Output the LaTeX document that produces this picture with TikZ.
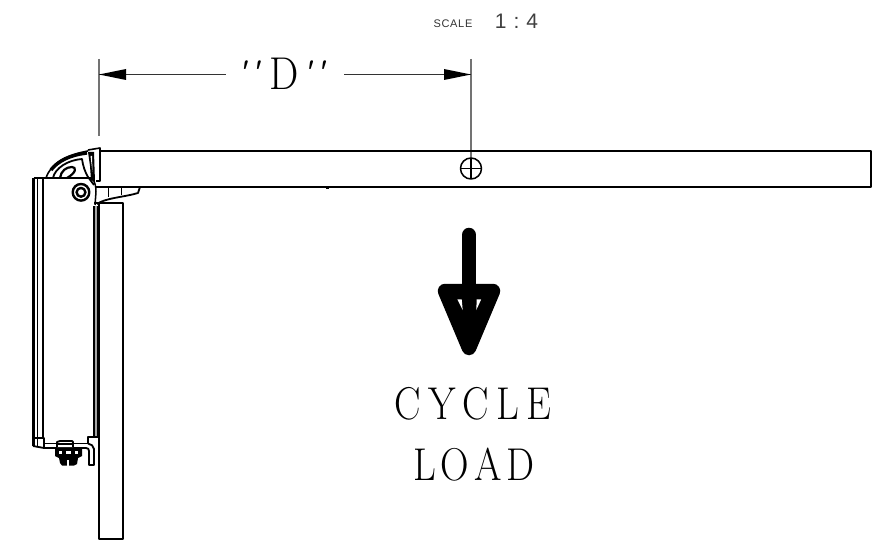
\documentclass[tikz,border=0pt]{standalone}
\usepackage{fontspec}
\newfontfamily\drawsans{Liberation Sans}
\tikzset{
 ln/.style={black,line width=1pt},
 thk/.style={black,line width=1.8pt},
 ext/.style={black!55,line width=1.2pt},
 dimline/.style={black!80,line width=0.9pt},
 lettering/.style={inner sep=0pt,anchor=center,text=black},
}
\newcommand{\tickmark}{\raisebox{7pt}{\fontsize{31}{31}\selectfont\bfseries\itshape\textquotesingle}}
\newcommand{\gapC}{\hspace{8.6pt}}
\newcommand{\gapL}{\hspace{5.8pt}}
\begin{document}
\begin{tikzpicture}[x=1pt,y=-1pt,line join=round]
\useasboundingbox (0,0) rectangle (881,540);
\fill[white] (0,0) rectangle (881,540);
% texts
\node[inner sep=0pt,text=black!80] (scaleword) at (453,24) {\drawsans\fontsize{11}{11}\selectfont\addfontfeature{LetterSpace=6}SCALE};
\node[inner sep=0pt,text=black!75] (scaleval) at (516.5,21) {\drawsans\fontsize{21}{21}\selectfont 1\hspace{7pt}:\hspace{7pt}4};
\node[lettering,xscale=0.9] (dlabel) at (281,74) {\tickmark\hspace{3.5pt}\tickmark\hspace{11pt}\fontsize{46}{46}\selectfont D\hspace{3.5pt}\tickmark\hspace{3.5pt}\tickmark};
\node[lettering,xscale=0.86] (cycle) at (473,404) {\fontsize{46}{46}\selectfont C\gapC Y\gapC C\gapC L\gapC E};
\node[lettering,xscale=0.86] (load) at (474,465) {\fontsize{46}{46}\selectfont L\gapL O\gapL A\gapL D};
% dimension
\coordinate (dl) at (99,74.5);
\coordinate (dr) at (471,74.5);
\draw[ext] (99,59) -- (99,136);
\draw[ext] (471,59) -- (471,168);
\draw[dimline] (dl) -- (226,74.5);
\draw[dimline] (344,74.5) -- (dr);
\fill (dl) -- (126,69) -- (126,80) -- cycle;
\fill (dr) -- (444,69) -- (444,80) -- cycle;
% main bar
\draw[thk] (100,151) -- (871,151) -- (871,187) -- (100,187);
\draw[line width=1.5pt] (100,149) -- (100,170);
\fill (326,186) rectangle (329,189);
\fill (337,186.5) rectangle (339,188.5);
\fill (349,186.5) rectangle (351,188.5);
% symbol
\draw[line width=1.5pt] (471,168.5) circle (10.5);
\draw[line width=1.3pt] (460.5,168.5) -- (481.5,168.5) (471,158) -- (471,179);
% load arrow
\draw[line width=14.5pt,line cap=round] (469,235) -- (469,300);
\draw[line width=14.5pt,fill=black] (445,291) -- (493,291) -- (469,348) -- cycle;
\fill[white] (457.3,299.3) -- (461.7,299.3) -- (462.7,310) -- cycle;
\fill[white] (476.7,299.3) -- (481.2,299.3) -- (476.3,310) -- cycle;
% post
\draw[line width=1.5pt] (99,203) -- (99,539) -- (123,539) -- (123,203) -- (94,203);
% housing
\draw[line width=2.4pt] (33.5,178) -- (92,178);
\draw[line width=2.2pt] (33.5,178) -- (33.5,446);
\draw[line width=1.6pt] (37.5,178) -- (37.5,446);
\draw[line width=1.6pt] (43,178) -- (43,437);
\fill[black!35] (94,206) rectangle (98,436);
\draw[thk] (94,206) -- (94,436);
\draw[thk] (98,206) -- (98,436);
% hinge
\draw[line width=1.6pt] (46,178) .. controls (51,163) and (66,155) .. (88,151);
\draw[line width=3.4pt] (51,170) .. controls (58,161) and (70,155) .. (87,153);
\draw[thk] (53,178) .. controls (55,168) and (68,160) .. (82,159) .. controls (83,166) and (85,172) .. (88,177) -- (94,185);
\draw[line width=2.2pt] (60,178) .. controls (61,171) and (66,167) .. (72,167) .. controls (77,167) and (76,173) .. (67,178);
% tab
\draw[line width=1.6pt,fill=white] (88,150) -- (100,148) -- (100,181) -- (96,181);
\fill (88,152) -- (94,152) -- (95,182) -- (91,180) -- (90,166) -- cycle;
\fill[white] (90.5,156) -- (92,156) -- (92.5,172) -- cycle;
\draw[line width=1.5pt] (92,178) .. controls (95,182) and (96,186) .. (96,192) -- (95,205);
\draw[thk] (96,187) -- (140,187) -- (138,193) .. controls (125,197) and (105,198) .. (97,204);
\draw[ln] (108,187) -- (108,197);
\draw[ln] (121,187) -- (121,195);
% pivot
\draw[line width=2.4pt] (81,192.3) circle (8.3);
\draw[line width=2.4pt] (81,192.3) circle (4.4);
% bottom clamp
\draw[thk] (33,446) -- (44,448) -- (44,438) -- (33,438);
\draw[thk] (44,443.5) -- (88,443.5) -- (88,437) -- (100,437);
\draw[thk] (44,448) -- (86,448) .. controls (88,448) and (89,449) .. (89,451) -- (89,465) -- (94,465) -- (94,449) .. controls (94,446) and (91,444) .. (88,443.5);
% bolt
\draw[thk,fill=white] (57,447) -- (57,442) -- (60,441) -- (72,441) -- (73,442) -- (73,447);
\draw[line width=1.4pt] (58,444) -- (72,444);
\fill (55,449) -- (82,449) -- (82,456) -- (78,458) -- (77,464) -- (74,465.5) -- (62,465.5) -- (60,463) -- (59,458) -- (55,456) -- cycle;
\fill[white] (67,460) rectangle (69,465.5);
\fill[white] (59,451) rectangle (62,454);
\fill[white] (66,451) rectangle (71,454);
\fill[white] (75,451) rectangle (78,454);
\end{tikzpicture}
\end{document}
